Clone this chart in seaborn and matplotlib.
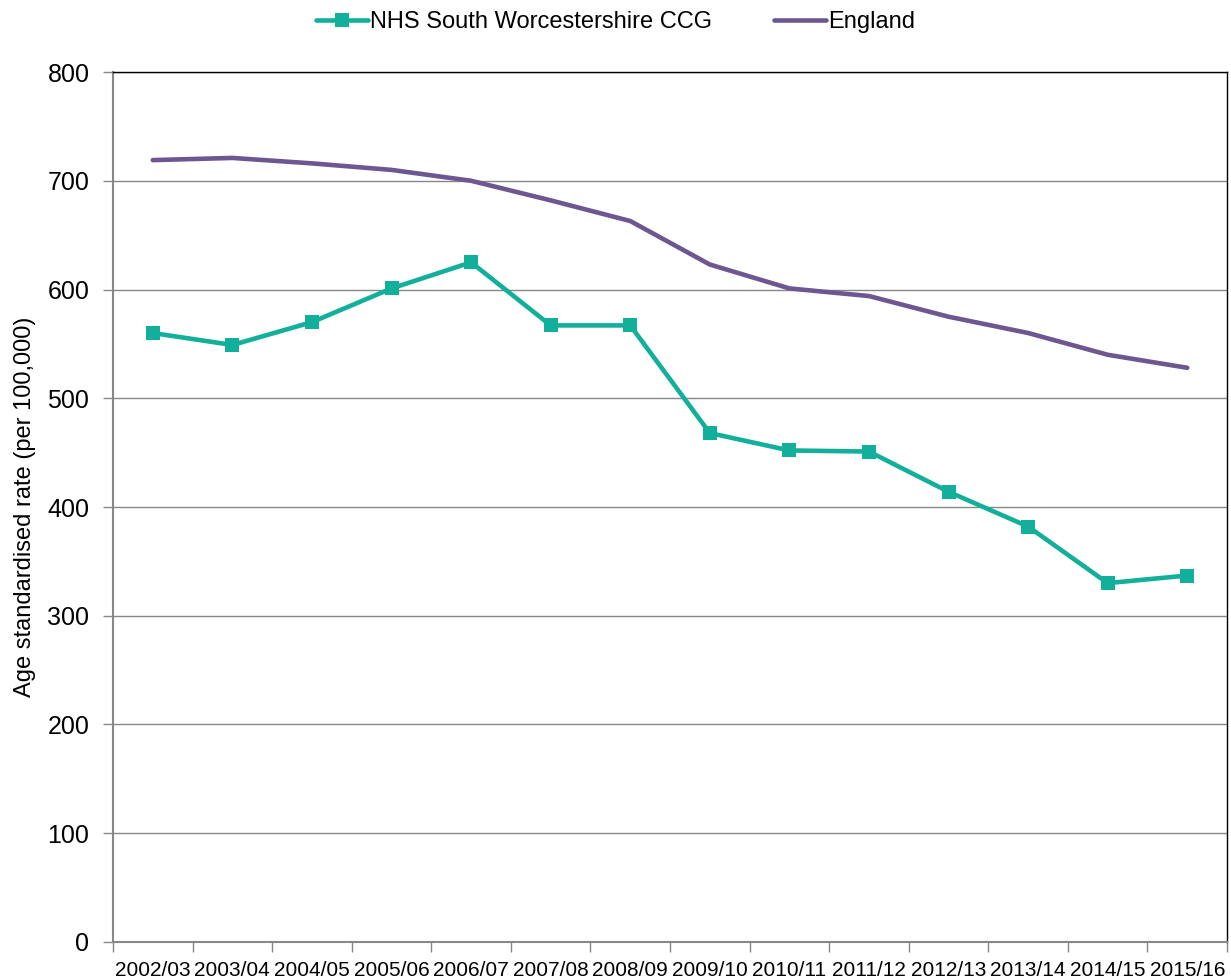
import matplotlib
matplotlib.use("Agg")
import matplotlib.pyplot as plt
import seaborn as sns
import pandas as pd
import numpy as np
from matplotlib.lines import Line2D

years = ["2002/03", "2003/04", "2004/05", "2005/06", "2006/07", "2007/08", "2008/09",
         "2009/10", "2010/11", "2011/12", "2012/13", "2013/14", "2014/15", "2015/16"]
ccg = [560, 549, 570, 601, 625, 567, 567, 468, 452, 451, 414, 382, 330, 337]
england = [719, 721, 716, 710, 700, 682, 663, 623, 601, 594, 575, 560, 540, 528]

sns.set_style("white")
plt.rcParams["font.family"] = ["Liberation Sans", "DejaVu Sans"]
plt.rcParams["text.color"] = "black"
plt.rcParams["axes.labelcolor"] = "black"
plt.rcParams["xtick.color"] = "black"
plt.rcParams["ytick.color"] = "black"

xs = list(range(len(years)))
df_ccg = pd.DataFrame({"x": xs, "value": ccg})
df_eng = pd.DataFrame({"x": xs, "value": england})

fig = plt.figure(figsize=(12.31, 9.8), dpi=100)
ax = fig.add_axes([0.0918, 0.0388, 0.9050, 0.8877])

teal = "#12B09A"
purple = "#6C5791"
sns.lineplot(data=df_eng, x="x", y="value", color=purple, linewidth=3.3, ax=ax)
sns.lineplot(data=df_ccg, x="x", y="value", color=teal, linewidth=3.3,
             marker="s", markersize=10, markeredgewidth=0, ax=ax)

ax.set_xlim(-0.5, len(years) - 0.5)
ax.set_ylim(0, 800)
ax.set_yticks(range(0, 801, 100))
ax.tick_params(axis="y", labelsize=18, length=7, width=1, color="#888888",
               labelcolor="black", direction="out", left=True, pad=10)
ax.yaxis.grid(True, color="#888888", linewidth=1)
ax.set_axisbelow(True)

ax.set_xticks(np.arange(-0.5, len(years), 1.0))
ax.set_xticklabels([])
ax.set_xticks(xs, minor=True)
ax.set_xticklabels(years, minor=True, fontsize=15)
ax.tick_params(axis="x", which="major", length=7, width=1, color="#888888", direction="out", bottom=True)
ax.tick_params(axis="x", which="minor", length=0, pad=14, labelcolor="black")

ax.set_xlabel("")
ax.set_ylabel("Age standardised rate (per 100,000)", fontsize=17, labelpad=8)

for s in ["left", "bottom"]:
    ax.spines[s].set_color("#888888")
    ax.spines[s].set_linewidth(1.5)
ax.spines["top"].set_color("black")
ax.spines["top"].set_linewidth(1)
ax.spines["right"].set_color("black")
ax.spines["right"].set_linewidth(1)

handles = [Line2D([], [], color=teal, lw=3.3, marker="s", markersize=10, markeredgewidth=0),
           Line2D([], [], color=purple, lw=3.3)]
fig.legend(handles, ["NHS South Worcestershire CCG", "England"], loc="upper center",
           bbox_to_anchor=(0.5, 1.01), ncol=2, frameon=False, fontsize=17,
           handlelength=2.2, handletextpad=0.1, columnspacing=2.6)

fig.savefig("out.png", dpi=100)
